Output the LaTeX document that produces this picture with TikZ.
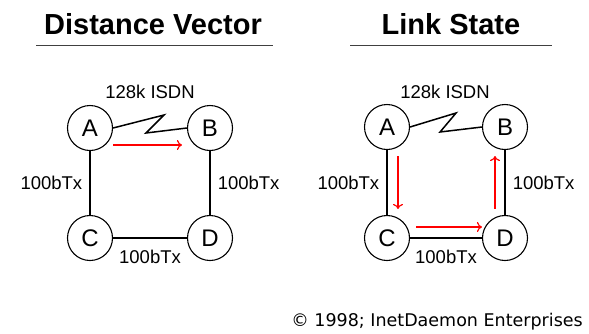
\documentclass[tikz,border=0pt]{standalone}
\usepackage{fontspec}
\setmainfont{Liberation Sans}
\newfontfamily\notefont{DejaVu Sans}
\usetikzlibrary{arrows.meta, positioning}

\begin{document}
\begin{tikzpicture}[x=1pt, y=-1pt,
    router/.style={draw, circle, line width=1.1pt, minimum size=45pt, inner sep=0pt, font=\fontsize{24}{26}\selectfont},
    link/.style={draw, line width=1.5pt},
    flow/.style={draw, red, line width=1.2pt, -{To[length=5pt, width=10pt]}},
    lbl/.style={font=\fontsize{18.5}{20}\selectfont, inner sep=1pt},
    heading/.style={font=\fontsize{29}{32}\selectfont\bfseries},
    rule/.style={draw, black!75, line width=1.8pt}
]
    \useasboundingbox (0,0) rectangle (589,333);

    % Headings
    \node[heading] (dvtitle) at (153,24) {Distance Vector};
    \node[heading] (lstitle) at (451,24) {Link State};
    \draw[rule] (36,45.5) -- (273,45.5);
    \draw[rule] (350,45.5) -- (552,45.5);

    % Distance vector routers
    \node[router] (dvA) at (90,128) {A};
    \node[router] (dvB) at (210,128) {B};
    \node[router] (dvC) at (90,238) {C};
    \node[router] (dvD) at (210,238) {D};

    % Distance vector links
    \node[lbl] (dvisdn) at (150,92) {128k ISDN};
    \draw[link] (dvA.east) -- ++(51,-13) -- ++(-18,18) -- (dvB.west);
    \draw[link] (dvA) -- node[lbl, left=6pt] {100bTx} (dvC);
    \draw[link] (dvB) -- node[lbl, right=6pt] {100bTx} (dvD);
    \draw[link] (dvC) -- node[lbl, below=10pt] {100bTx} (dvD);
    \draw[flow] ([yshift=-17pt]dvA.east) -- ([xshift=-5pt, yshift=-17pt]dvB.west);

    % Link state routers
    \node[router] (lsA) at (387,127) {A};
    \node[router] (lsB) at (505,127) {B};
    \node[router] (lsC) at (387,238) {C};
    \node[router] (lsD) at (505,238) {D};

    % Link state links
    \node[lbl] (lsisdn) at (445,92) {128k ISDN};
    \draw[link] (lsA.east) -- ++(46,-14) -- ++(-16,19) -- (lsB.west);
    \draw[link] (lsA) -- node[lbl, left=6pt] {100bTx} (lsC);
    \draw[link] (lsB) -- node[lbl, right=6pt] {100bTx} (lsD);
    \draw[link] (lsC) -- node[lbl, below=10pt] {100bTx} (lsD);
    \draw[flow] ([xshift=11pt, yshift=-6pt]lsA.south) -- ([xshift=11pt, yshift=6pt]lsC.north);
    \draw[flow] ([xshift=6pt, yshift=11pt]lsC.east) -- ([yshift=11pt]lsD.west);
    \draw[flow] ([xshift=-10pt, yshift=6pt]lsD.north) -- ([xshift=-10pt, yshift=-6pt]lsB.south);

    % Copyright
    \node[anchor=east, font=\notefont\fontsize{17.5}{20}\selectfont, inner sep=0pt] (credit) at (583,322) {© 1998; InetDaemon Enterprises};
\end{tikzpicture}
\end{document}
